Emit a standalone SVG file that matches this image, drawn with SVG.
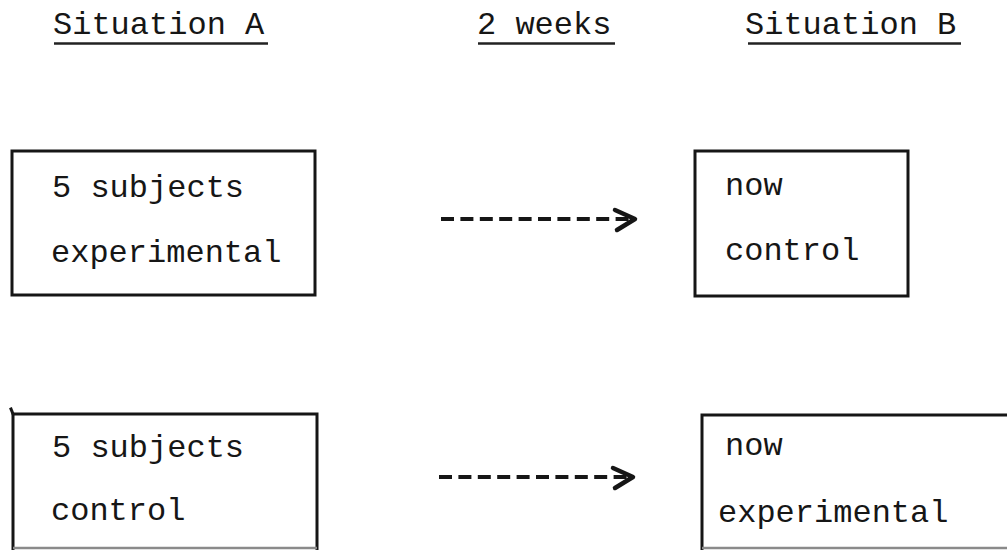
<svg xmlns="http://www.w3.org/2000/svg" width="1007" height="550" viewBox="0 0 1007 550">
  <style>
    .t { font-family: "Liberation Mono", "DejaVu Sans Mono", monospace; font-size: 32px; fill: #161616; }
    .edge { fill: none; stroke: #161616; stroke-width: 3; stroke-linecap: square; }
    .faint { fill: none; stroke: #8a8a8a; stroke-width: 2.5; }
    .ul { stroke: #222; stroke-width: 2.5; }
    .dash { fill: none; stroke: #161616; stroke-width: 4; stroke-dasharray: 13 6.4; }
  </style>
  <defs>
    <marker id="chev" markerUnits="userSpaceOnUse" markerWidth="30" markerHeight="30" viewBox="-26 -15 30 30" refX="0" refY="0" orient="auto" overflow="visible">
      <path d="M -20 -9 L 0 0 L -18 11" fill="none" stroke="#161616" stroke-width="4.5" stroke-linecap="round" stroke-linejoin="round"/>
    </marker>
  </defs>
  <rect width="1007" height="550" fill="#ffffff"/>

  <g id="headers">
    <text class="t" x="53" y="34">Situation A</text>
    <line class="ul" x1="54" y1="43.5" x2="268" y2="43.5"/>
    <text class="t" x="477" y="34">2 weeks</text>
    <line class="ul" x1="478" y1="43.5" x2="615" y2="43.5"/>
    <text class="t" x="745" y="34">Situation B</text>
    <line class="ul" x1="748" y1="43.5" x2="961" y2="43.5"/>
  </g>

  <g id="nodeA1">
    <rect class="edge" x="12" y="151" width="303" height="144"/>
    <text class="t" x="52" y="197">5 subjects</text>
    <text class="t" x="51" y="262">experimental</text>
  </g>

  <g id="nodeB1">
    <rect class="edge" x="695" y="151" width="213" height="145"/>
    <text class="t" x="725" y="195">now</text>
    <text class="t" x="725" y="260">control</text>
  </g>

  <g id="nodeA2">
    <path class="edge" d="M 13 550 L 13 414 L 317 414 L 317 550"/>
    <path class="edge" d="M 13 414 L 11 409"/>
    <line class="faint" x1="13" y1="548" x2="317" y2="548"/>
    <text class="t" x="52" y="457">5 subjects</text>
    <text class="t" x="51" y="520">control</text>
  </g>

  <g id="nodeB2">
    <path class="edge" d="M 702 550 L 702 415 L 1010 415"/>
    <line class="faint" x1="702" y1="548" x2="1010" y2="548"/>
    <text class="t" x="725" y="455">now</text>
    <text class="t" x="718" y="522">experimental</text>
  </g>

  <g id="connectors">
    <line class="dash" x1="441" y1="219" x2="635" y2="219" marker-end="url(#chev)"/>
    <line class="dash" x1="439" y1="477" x2="633" y2="477" marker-end="url(#chev)"/>
  </g>
</svg>
